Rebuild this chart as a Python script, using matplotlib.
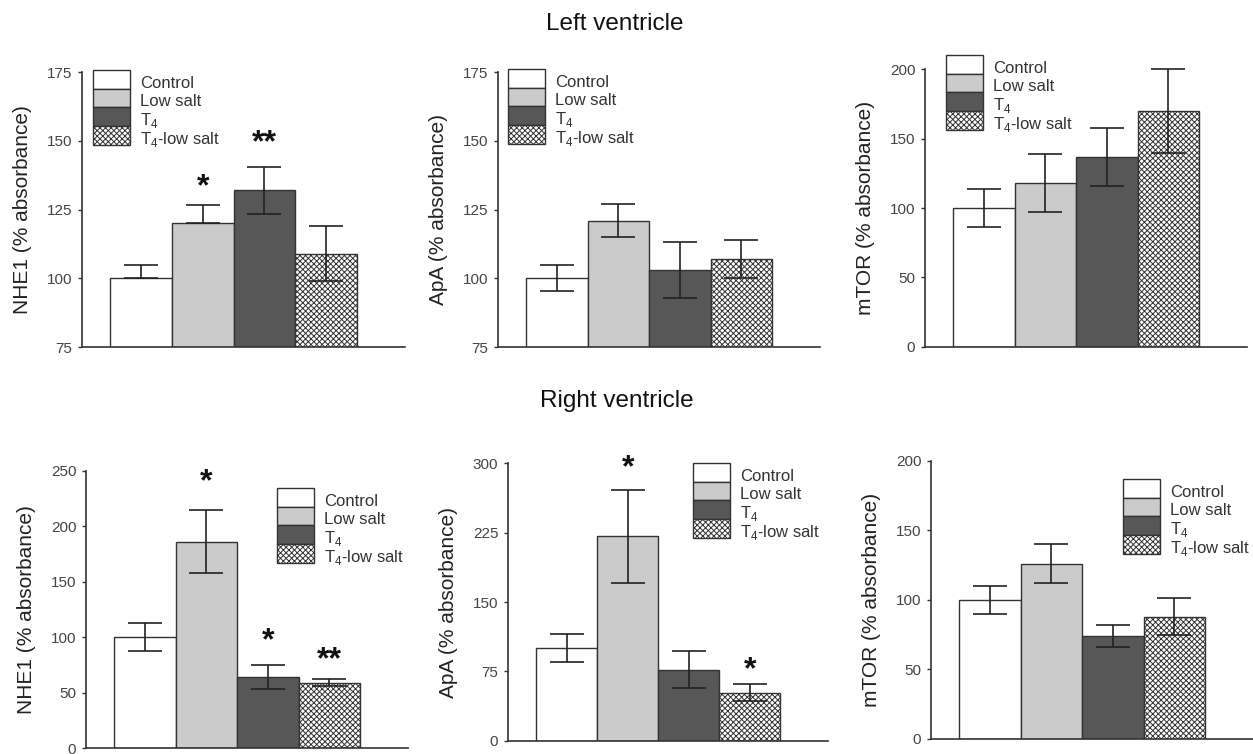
import numpy as np
import matplotlib.pyplot as plt
from matplotlib.patches import Rectangle
from matplotlib.transforms import Affine2D

plt.rcParams['font.family'] = ['Liberation Sans', 'DejaVu Sans']
plt.rcParams['mathtext.fontset'] = 'custom'
plt.rcParams['mathtext.rm'] = 'Liberation Sans'
plt.rcParams['hatch.color'] = '#333333'
plt.rcParams['hatch.linewidth'] = 0.7

W, H = 1253, 754

groups = ['Control', 'Low salt', 'T$_\\mathregular{4}$', 'T$_\\mathregular{4}$-low salt']
colors = ['white', '#cbcbcb', '#575757', 'white']
hatches = ['', '', '', 'xxxxxx']

# left ventricle
lv_nhe1 = [100, 120, 132, 109]
lv_nhe1_up = [5, 6.8, 8.6, 10]
lv_nhe1_lo = [0, 0, 8.6, 10]
lv_apa = [100, 121, 103, 107]
lv_apa_err = [4.7, 6, 10.2, 7]
lv_mtor = [100, 118, 137, 170]
lv_mtor_err = [14, 21, 21, 30]

# right ventricle
rv_nhe1 = [100, 186, 64, 59]
rv_nhe1_err = [12.7, 28.6, 10.6, 3.5]
rv_apa = [100, 221, 77, 52]
rv_apa_err = [15, 50, 20, 9]
rv_mtor = [100, 126, 74, 88]
rv_mtor_err = [10, 14, 8, 13.5]

# significance marks: (bar, y, text)
lv_nhe1_stars = [(1, 137, '*'), (2, 153, '**')]
rv_nhe1_stars = [(1, 249, '*'), (2, 106, '*'), (3, 89, '**')]
rv_apa_stars = [(1, 306, '*'), (3, 88, '*')]

panels = [
    dict(vals=lv_nhe1, lo=lv_nhe1_lo, up=lv_nhe1_up, ylabel='NHE1 (% absorbance)',
         ylim=(75, 175), step=25, stars=lv_nhe1_stars,
         rect=(82, 72, 405, 347), leg=(93, 70)),
    dict(vals=lv_apa, lo=lv_apa_err, up=lv_apa_err, ylabel='ApA (% absorbance)',
         ylim=(75, 175), step=25, stars=[],
         rect=(498, 72, 820, 347), leg=(508, 69)),
    dict(vals=lv_mtor, lo=lv_mtor_err, up=lv_mtor_err, ylabel='mTOR (% absorbance)',
         ylim=(0, 200), step=50, stars=[],
         rect=(925, 69.3, 1247, 346.7), leg=(946, 55)),
    dict(vals=rv_nhe1, lo=rv_nhe1_err, up=rv_nhe1_err, ylabel='NHE1 (% absorbance)',
         ylim=(0, 250), step=50, stars=rv_nhe1_stars,
         rect=(86, 470.7, 408, 748), leg=(277, 488)),
    dict(vals=rv_apa, lo=rv_apa_err, up=rv_apa_err, ylabel='ApA (% absorbance)',
         ylim=(0, 300), step=75, stars=rv_apa_stars,
         rect=(508, 463.3, 828, 740.7), leg=(693, 463)),
    dict(vals=rv_mtor, lo=rv_mtor_err, up=rv_mtor_err, ylabel='mTOR (% absorbance)',
         ylim=(0, 200), step=50, stars=[],
         rect=(931, 460.7, 1253, 739), leg=(1123, 479)),
]

fig = plt.figure(figsize=(W / 100, H / 100), dpi=100)
# pixel coordinates, origin at top left
px = Affine2D().scale(1 / W, -1 / H).translate(0, 1) + fig.transFigure

x = np.arange(4)
star_fs = 23
for p in panels:
    l, t, r, b = p['rect']
    ax = fig.add_axes([l / W, 1 - b / H, (r - l) / W, (b - t) / H])
    bars = ax.bar(x, p['vals'], width=1, color=colors, edgecolor='#333333', linewidth=1)
    for bar, h in zip(bars, hatches):
        bar.set_hatch(h)
    ax.errorbar(x, p['vals'], yerr=[p['lo'], p['up']], fmt='none', ecolor='#222222',
                elinewidth=1.2, capsize=12, capthick=1.2, clip_on=False)
    for i, y, s in p['stars']:
        ax.annotate(s, xy=(i, y), xytext=(0, -0.58 * star_fs), textcoords='offset points',
                    ha='center', va='baseline', fontsize=star_fs, fontweight='bold',
                    color='#111111', annotation_clip=False)
    ax.set_xlim(-0.96, 4.28)
    ax.set_ylim(*p['ylim'])
    ax.set_yticks(np.arange(p['ylim'][0], p['ylim'][1] + 1, p['step']))
    ax.set_xticks([])
    ax.spines['top'].set_visible(False)
    ax.spines['right'].set_visible(False)
    for s in ['left', 'bottom']:
        ax.spines[s].set_linewidth(1.2)
        ax.spines[s].set_color('#333333')
    ax.tick_params(axis='y', direction='out', length=3, width=1, color='#333333',
                   labelsize=11, labelcolor='#444444', pad=4)
    ax.set_ylabel(p['ylabel'], fontsize=15, color='#222222')
    ax.yaxis.set_label_coords(-50 / (r - l), 0.5)

    # stacked box legend
    lx, ly = p['leg']
    bw, bh = 37, 18.7
    for k, g in enumerate(groups):
        fig.add_artist(Rectangle((lx, ly + k * bh), bw, bh, transform=px,
                                 facecolor=colors[k], edgecolor='#333333',
                                 linewidth=1, hatch=hatches[k]))
        fig.text(lx + bw + 10, ly + (k + 1) * bh - 1, g, transform=px,
                 fontsize=12, color='#333333', va='baseline', ha='left')

fig.text(615 / W, 1 - 30 / H, 'Left ventricle', fontsize=17.5, color='#111111',
         ha='center', va='baseline')
fig.text(617 / W, 1 - 407 / H, 'Right ventricle', fontsize=17.5, color='#111111',
         ha='center', va='baseline')

fig.savefig('out.png', dpi=100)
